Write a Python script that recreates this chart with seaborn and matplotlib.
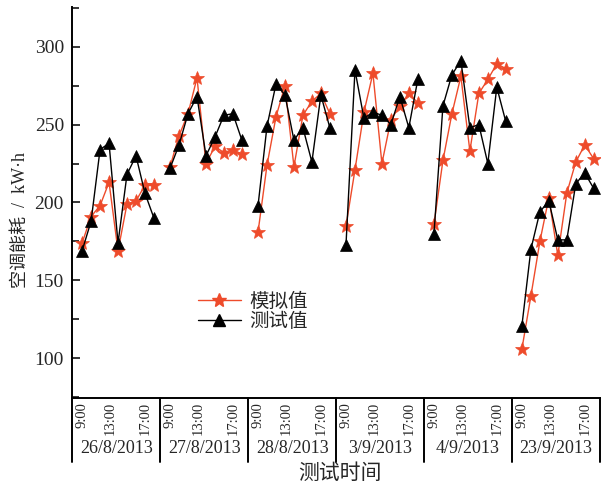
import numpy as np
import pandas as pd
import matplotlib
matplotlib.use("Agg")
import matplotlib.pyplot as plt
import seaborn as sns
from matplotlib.lines import Line2D
from matplotlib.ticker import MultipleLocator

# ---------------- data ----------------
dates = ["26/8/2013", "27/8/2013", "28/8/2013", "3/9/2013", "4/9/2013", "23/9/2013"]
hours = ["9:00", "10:00", "11:00", "12:00", "13:00", "14:00", "15:00", "16:00", "17:00"]
time_labels = ["9:00", "13:00", "17:00"]
series_names = ["模拟值", "测试值"]

sim_26_8 = [174, 191, 198, 213, 169, 199, 201, 211, 211]
sim_27_8 = [223, 243, 257, 280, 225, 236, 232, 234, 231]
sim_28_8 = [181, 224, 255, 275, 223, 256, 265, 270, 257]
sim_3_9 = [185, 221, 258, 283, 225, 253, 262, 270, 264]
sim_4_9 = [186, 227, 257, 281, 233, 270, 279, 289, 286]
sim_23_9 = [106, 140, 175, 203, 166, 206, 226, 237, 228]

meas_26_8 = [169, 188, 234, 238, 174, 218, 230, 206, 190]
meas_27_8 = [222, 237, 257, 268, 230, 242, 256, 257, 240]
meas_28_8 = [198, 249, 276, 269, 240, 248, 226, 269, 248]
meas_3_9 = [173, 285, 254, 258, 256, 250, 268, 248, 279]
meas_4_9 = [180, 262, 282, 291, 248, 250, 225, 274, 252]
meas_23_9 = [121, 170, 194, 201, 176, 176, 212, 219, 209]

sim = [sim_26_8, sim_27_8, sim_28_8, sim_3_9, sim_4_9, sim_23_9]
meas = [meas_26_8, meas_27_8, meas_28_8, meas_3_9, meas_4_9, meas_23_9]

# ---------------- layout ----------------
DAY_STEP = 9.8
PAD_L = 1.1
RED = "#EE4B2B"
BLACK = "#000000"

rows = []
for d, date in enumerate(dates):
    for h, hr in enumerate(hours):
        x = d * DAY_STEP + h
        rows.append(dict(x=x, value=sim[d][h], series=series_names[0], day=date))
        rows.append(dict(x=x, value=meas[d][h], series=series_names[1], day=date))
df = pd.DataFrame(rows)

sns.set_theme(style="white")
plt.rcParams["font.family"] = ["Liberation Serif", "Noto Sans CJK SC"]

fig = plt.figure(figsize=(6.02, 4.88), dpi=100)
ax = fig.add_axes([0.120, 0.1838, 0.9967 - 0.120, 0.9863 - 0.1838])

sns.lineplot(data=df[df.series == series_names[0]], x="x", y="value",
             units="day", estimator=None, color=RED, marker="*",
             markersize=10, markeredgecolor=RED, markeredgewidth=0.5,
             linewidth=1.0, ax=ax, legend=False)
sns.lineplot(data=df[df.series == series_names[1]], x="x", y="value",
             units="day", estimator=None, color=BLACK, marker="^",
             markersize=8.5, markeredgecolor=BLACK, markeredgewidth=0.5,
             linewidth=1.0, ax=ax, legend=False)

ax.set_xlim(-PAD_L, len(dates) * DAY_STEP - PAD_L)
ax.set_ylim(74.3, 325.7)
ax.set_xticks([])
ax.set_xlabel("")
ax.set_ylabel("")
ax.yaxis.set_major_locator(MultipleLocator(50))
ax.yaxis.set_minor_locator(MultipleLocator(25))
ax.tick_params(axis="y", which="both", direction="in", left=True,
               width=1.3, labelsize=14, pad=6)
ax.tick_params(axis="y", which="major", length=6)
ax.tick_params(axis="y", which="minor", length=5)
for side in ["top", "right"]:
    ax.spines[side].set_visible(False)
for side in ["left", "bottom"]:
    ax.spines[side].set_color("black")
    ax.spines[side].set_linewidth(1.4)

# category table below the axis
trans = ax.get_xaxis_transform()
for d in range(len(dates) + 1):
    xs = d * DAY_STEP - PAD_L
    ax.plot([xs, xs], [0, -0.162], color="black", lw=1.4, transform=trans,
            clip_on=False)
time_offsets = [0.0, 3.1, 7.0]
for d, date in enumerate(dates):
    for lab, off in zip(time_labels, time_offsets):
        ax.text(d * DAY_STEP + off, -0.009, lab, rotation=90, ha="center",
                va="top", fontsize=10.5, transform=trans)
    ax.text(d * DAY_STEP - PAD_L + DAY_STEP / 2, -0.128, date, ha="center",
            va="center", fontsize=13, transform=trans)

ax.text(0.507, -0.194, "测试时间", ha="center", va="center", fontsize=15,
        transform=ax.transAxes)
ax.text(-0.099, 0.455, "空调能耗  /  kW·h", rotation=90, ha="center",
        va="center", fontsize=13, transform=ax.transAxes)

handles = [
    Line2D([0], [0], color=RED, marker="*", markersize=10, lw=1.0,
           markeredgecolor=RED),
    Line2D([0], [0], color=BLACK, marker="^", markersize=8.5, lw=1.0),
]
ax.legend(handles=handles, labels=series_names, frameon=False,
          loc="upper left", bbox_to_anchor=(0.238, 0.27), fontsize=14,
          handlelength=2.2, handletextpad=0.45, labelspacing=0.1,
          borderpad=0, borderaxespad=0)

fig.savefig("out.png", dpi=100)
